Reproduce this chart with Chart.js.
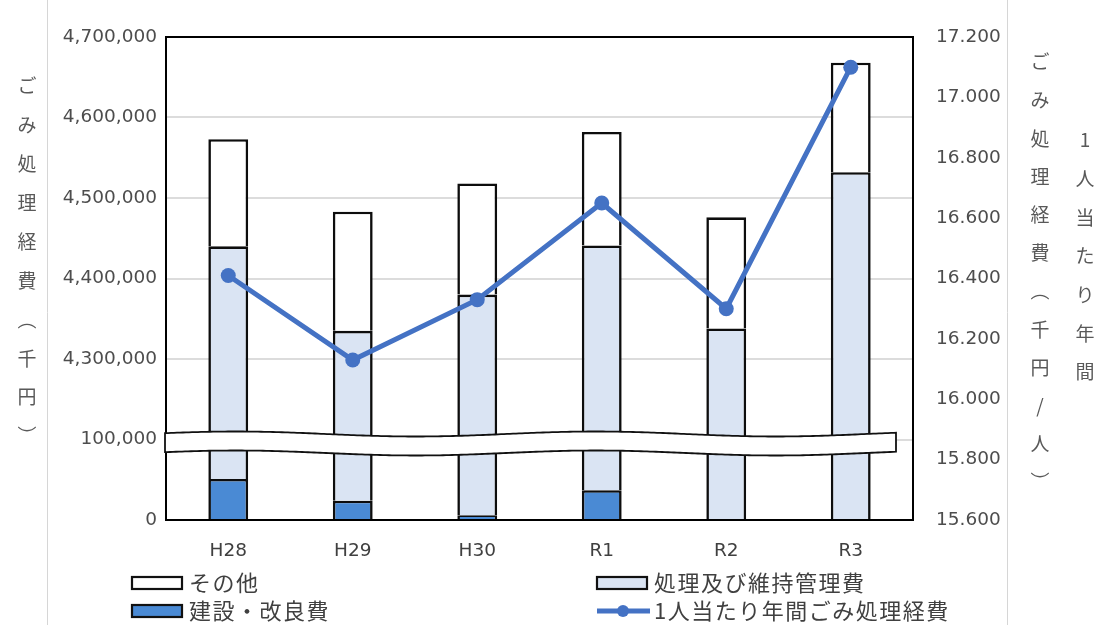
<!DOCTYPE html>
<html>
<head>
<meta charset="utf-8">
<script src="https://cdn.jsdelivr.net/npm/chart.js@4.4.1/dist/chart.umd.min.js"></script>
<style>
  html, body { margin: 0; padding: 0; background: #fff; }
  canvas { display: block; }
</style>
</head>
<body>
<canvas id="chart" width="1103" height="625"></canvas>
<script>
// 年度
const years = ['H28', 'H29', 'H30', 'R1', 'R2', 'R3'];
// ごみ処理経費の内訳（千円）
const construction = [51000, 24000, 6000, 37000, 1000, 0];                    // 建設・改良費
const maintenance  = [4389000, 4311000, 4374000, 4404000, 4337000, 4532000];  // 処理及び維持管理費
const other        = [133000, 148000, 138000, 141000, 138000, 136000];        // その他
// 1人当たり年間ごみ処理経費（千円/人）
const perCapita    = [16.41, 16.13, 16.33, 16.65, 16.30, 17.10];
// 左軸の目盛（途中を省略）
const leftTicks    = [0, 100000, 4300000, 4400000, 4500000, 4600000, 4700000];
// 右軸の範囲
const rightMin = 15.6, rightMax = 17.2, rightStep = 0.2;

// 省略区間：100,000 の次の目盛を 4,300,000 とする
const BREAK_LOW = 100000, BREAK_HIGH = 4300000, STEP = 100000;
const SHIFT = BREAK_HIGH - BREAK_LOW - STEP;
const toAxis = v => (v <= BREAK_LOW ? v : v - SHIFT);
const fromAxis = d => (d <= BREAK_LOW ? d : d + SHIFT);

const COLORS = {
  construction: '#4a8ad4',
  maintenance: '#dae4f3',
  other: '#ffffff',
  line: '#4472c4',
  edge: '#0d0d0d'
};

// 積み上げ位置を実額で求め、省略軸上の区間に変換
const spans = (lower, upper) => years.map((_, i) => [toAxis(lower[i]), toAxis(upper[i])]);
const zero = years.map(() => 0);
const cTop = years.map((_, i) => construction[i]);
const mTop = years.map((_, i) => construction[i] + maintenance[i]);
const oTop = years.map((_, i) => mTop[i] + other[i]);

const JP = '"Noto Sans CJK JP", "Noto Sans", sans-serif';
const NUM = '"DejaVu Sans", sans-serif';

// 枠線と省略記号
const frameAndBreak = {
  id: 'frameAndBreak',
  afterDatasetsDraw(chart) {
    const { ctx, chartArea: a, scales } = chart;
    ctx.save();
    ctx.strokeStyle = '#000';
    ctx.lineWidth = 2;
    ctx.strokeRect(a.left, a.top, a.right - a.left, a.bottom - a.top);

    const yc = scales.y.getPixelForValue(toAxis(BREAK_LOW)) + 4;
    const x0 = a.left - 1, x1 = a.right - 17;
    const half = 9.5;
    const wave = x => -2.5 * Math.cos(2 * Math.PI * (x - (a.left + 70)) / 360);
    ctx.beginPath();
    ctx.moveTo(x0, yc - half + wave(x0));
    for (let x = x0; x <= x1; x += 3) ctx.lineTo(x, yc - half + wave(x));
    ctx.lineTo(x1, yc - half + wave(x1));
    ctx.lineTo(x1, yc + half + wave(x1));
    for (let x = x1; x >= x0; x -= 3) ctx.lineTo(x, yc + half + wave(x));
    ctx.lineTo(x0, yc + half + wave(x0));
    ctx.closePath();
    ctx.fillStyle = '#fff';
    ctx.fill();
    ctx.lineWidth = 1.8;
    ctx.strokeStyle = '#111';
    ctx.stroke();
    ctx.restore();
  }
};

// 縦書きの軸タイトルと凡例
const annotations = {
  id: 'annotations',
  afterDraw(chart) {
    const { ctx } = chart;
    ctx.save();

    // 外側の薄い罫線
    ctx.strokeStyle = '#d6d6d6';
    ctx.lineWidth = 1;
    [47.5, 1007.5].forEach(x => {
      ctx.beginPath(); ctx.moveTo(x, 0); ctx.lineTo(x, 625); ctx.stroke();
    });

    const vertical = (text, x, y0, step) => {
      Array.from(text).forEach((ch, i) => ctx.fillText(ch, x, y0 + i * step));
    };
    ctx.fillStyle = '#595959';
    ctx.font = '19px ' + JP;
    ctx.textAlign = 'center';
    ctx.textBaseline = 'middle';
    vertical('ごみ処理経費︵千円︶', 27, 86, 38.9);
    vertical('ごみ処理経費︵千円/人︶', 1040, 62, 38.2);
    vertical('1人当たり年間', 1085, 140, 38.7);

    // 凡例
    const ds = chart.data.datasets;
    const byLabel = l => ds.find(d => d.label === l);
    const items = [
      { label: 'その他', x: 132, y: 583, kind: 'box' },
      { label: '処理及び維持管理費', x: 597, y: 583, kind: 'box' },
      { label: '建設・改良費', x: 132, y: 611, kind: 'box' },
      { label: '1人当たり年間ごみ処理経費', x: 597, y: 611, kind: 'line' }
    ];
    ctx.textAlign = 'left';
    ctx.font = '22px ' + JP;
    if ('letterSpacing' in ctx) ctx.letterSpacing = '1.5px';
    items.forEach(it => {
      const d = byLabel(it.label);
      if (it.kind === 'box') {
        ctx.fillStyle = d.backgroundColor;
        ctx.fillRect(it.x, it.y - 6, 50, 12);
        ctx.strokeStyle = '#111';
        ctx.lineWidth = 2.2;
        ctx.strokeRect(it.x, it.y - 6, 50, 12);
      } else {
        ctx.strokeStyle = d.borderColor;
        ctx.lineWidth = 5;
        ctx.beginPath(); ctx.moveTo(it.x, it.y); ctx.lineTo(it.x + 53, it.y); ctx.stroke();
        ctx.fillStyle = d.borderColor;
        ctx.beginPath(); ctx.arc(it.x + 26, it.y, 6, 0, Math.PI * 2); ctx.fill();
      }
      ctx.fillStyle = '#404040';
      ctx.fillText(it.label, it.x + 57, it.y);
    });
    ctx.restore();
  }
};

const barCommon = {
  type: 'bar',
  yAxisID: 'y',
  borderColor: COLORS.edge,
  borderWidth: 2.6,
  borderSkipped: 'start',
  categoryPercentage: 1,
  barPercentage: 0.32,
  order: 1
};

new Chart(document.getElementById('chart'), {
  data: {
    labels: years,
    datasets: [
      {
        type: 'line',
        label: '1人当たり年間ごみ処理経費',
        data: perCapita,
        yAxisID: 'y2',
        borderColor: COLORS.line,
        backgroundColor: COLORS.line,
        borderWidth: 5,
        pointRadius: 7.5,
        pointBorderWidth: 0,
        pointBackgroundColor: COLORS.line,
        tension: 0,
        order: 0
      },
      Object.assign({}, barCommon, { label: '建設・改良費', data: spans(zero, cTop), backgroundColor: COLORS.construction }),
      Object.assign({}, barCommon, { label: '処理及び維持管理費', data: spans(cTop, mTop), backgroundColor: COLORS.maintenance }),
      Object.assign({}, barCommon, { label: 'その他', data: spans(mTop, oTop), backgroundColor: COLORS.other })
    ]
  },
  options: {
    responsive: false,
    animation: false,
    devicePixelRatio: 1,
    layout: { padding: { top: 37, left: 0, right: 0, bottom: 0 } },
    plugins: { legend: { display: false }, tooltip: { enabled: false } },
    scales: {
      x: {
        stacked: true,
        offset: true,
        grid: { display: false },
        border: { display: false },
        ticks: { color: '#404040', font: { family: NUM, size: 18.5 }, padding: 12 },
        afterFit(s) { s.height = 105; }
      },
      y: {
        position: 'left',
        stacked: false,
        min: 0,
        max: toAxis(leftTicks[leftTicks.length - 1]),
        afterBuildTicks(s) { s.ticks = leftTicks.map(v => ({ value: toAxis(v) })); },
        grid: { color: '#dcdcdc', lineWidth: 2, drawTicks: false },
        border: { display: false },
        ticks: {
          color: '#4d4d4d',
          font: { family: NUM, size: 18.5 },
          padding: 9,
          callback: v => fromAxis(v).toLocaleString('en-US')
        },
        afterFit(s) { s.width = 166; }
      },
      y2: {
        position: 'right',
        stacked: false,
        min: rightMin,
        max: rightMax,
        grid: { display: false, drawTicks: false },
        border: { display: false },
        ticks: {
          stepSize: rightStep,
          color: '#4d4d4d',
          font: { family: NUM, size: 18.5 },
          padding: 23,
          callback: v => Number(v).toFixed(3)
        },
        afterFit(s) { s.width = 190; }
      }
    }
  },
  plugins: [frameAndBreak, annotations]
});
</script>
</body>
</html>
